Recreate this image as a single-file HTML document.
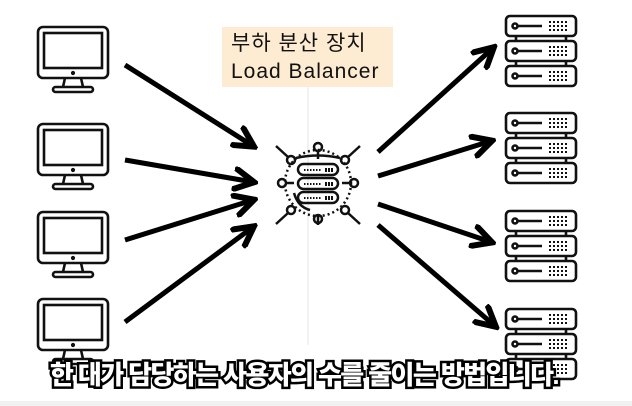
<!DOCTYPE html>
<html><head><meta charset="utf-8"><style>
html,body{margin:0;padding:0;background:#fff;}
#wrap{position:relative;width:632px;height:406px;overflow:hidden;background:#fff;}
svg{position:absolute;left:0;top:0;}
.lbl{position:absolute;left:222px;top:27px;width:171px;height:60px;background:#fdebd2;font-family:"Liberation Sans","Noto Sans CJK KR",sans-serif;font-size:21px;color:#111;line-height:28px;padding-top:3px;box-sizing:border-box;padding-left:9px;letter-spacing:1px;white-space:nowrap;}
.sub{position:absolute;left:-12px;width:632px;top:355px;text-align:center;font-family:"Liberation Sans","Noto Sans CJK KR",sans-serif;font-weight:900;font-size:26px;color:#fff;-webkit-text-stroke:5px #000;paint-order:stroke fill;letter-spacing:-1.6px;white-space:nowrap;}
.bot{position:absolute;left:0;top:401px;width:632px;height:5px;background:#f1f1f1;}
</style></head><body>
<div id="wrap">
<svg width="632" height="406" viewBox="0 0 632 406">
<defs>
<g id="mon" fill="none" stroke="#111" stroke-width="2.6">
<rect x="0" y="0" width="70" height="51" rx="5"/>
<rect x="6" y="6" width="58" height="35"/>
<circle cx="35" cy="46" r="0.8" fill="#111"/>
<path d="M27 51 L25 60 M43 51 L45 60"/>
<rect x="15" y="60" width="40" height="5" rx="2.5"/>
</g>
<g id="unit" fill="none" stroke="#111" stroke-width="2.6">
<rect x="0" y="0" width="70" height="20" rx="4"/>
<circle cx="9" cy="10" r="2.5"/><path d="M12 10 H36"/>
<path d="M43 6 H62 M43 10 H62 M43 14 H62" stroke-dasharray="2 2" stroke-width="2"/>
</g>
<g id="srv">
<use href="#unit" x="0" y="0"/>
<use href="#unit" x="0" y="25"/>
<use href="#unit" x="0" y="50"/>
<path d="M10 20 V25 M60 20 V25 M10 45 V50 M60 45 V50" stroke="#111" stroke-width="2.6"/>
</g>
<marker id="ah" viewBox="0 0 10 10" refX="8" refY="5" markerWidth="5" markerHeight="5" orient="auto"><path d="M0 0.5 L8.5 5 L0 9.5" fill="none" stroke="#000" stroke-width="2.4"/></marker>
</defs>
<line x1="308" y1="87" x2="308" y2="345" stroke="#e4e4e4" stroke-width="1"/>
<use href="#mon" x="38" y="27"/>
<use href="#mon" x="38" y="124"/>
<use href="#mon" x="38" y="212"/>
<use href="#mon" x="38" y="299"/>
<g stroke="#000" stroke-width="5" fill="none" marker-end="url(#ah)">
<line x1="125" y1="65" x2="253" y2="146"/>
<line x1="125" y1="160" x2="253" y2="182"/>
<line x1="125" y1="240" x2="253" y2="200"/>
<line x1="125" y1="322" x2="253" y2="227"/>
</g>
<g stroke="#000" stroke-width="5" fill="none" marker-end="url(#ah)">
<line x1="378" y1="152" x2="493" y2="48"/>
<line x1="378" y1="176" x2="491" y2="141"/>
<line x1="378" y1="204" x2="491" y2="242"/>
<line x1="378" y1="225" x2="495" y2="326"/>
</g>
<g fill="none" stroke="#111" stroke-width="2.5" transform="translate(318,183)">
<circle r="33" stroke-dasharray="2 3"/>
<rect x="-20" y="-19" width="40" height="11" rx="5.5"/>
<rect x="-20" y="-5" width="40" height="11" rx="5.5"/>
<rect x="-20" y="9" width="40" height="11" rx="5.5"/>
<path d="M-14 -13 H4 M-14 1 H4 M-14 15 H4" stroke-dasharray="1.5 1.5" stroke-width="2"/>
<path d="M7 -13 H15 M7 1 H15 M7 15 H15" stroke-dasharray="2 1" stroke-width="4"/>
<circle cx="0" cy="-36" r="4"/><circle cx="0" cy="36" r="4"/><circle cx="-36" cy="0" r="4"/><circle cx="36" cy="0" r="4"/>
<circle cx="-27" cy="-23" r="4"/><circle cx="27" cy="-23" r="4"/><circle cx="-27" cy="27" r="4"/><circle cx="27" cy="27" r="4"/>
<path d="M-30 -26 L-42 -37 M30 -26 L42 -37 M-30 30 L-42 41 M30 30 L42 41 M0 -32 V-24 M0 32 V42 M-32 0 H-24 M32 0 H24"/>
<path d="M-22 -25 Q0 -30 22 -25 M-24 10 Q-20 24 -8 27"/>
</g>
<use href="#srv" x="506" y="16"/>
<use href="#srv" x="506" y="113"/>
<use href="#srv" x="506" y="211"/>
<use href="#srv" x="506" y="309"/>
</svg>
<div class="lbl">부하 분산 장치<br>Load Balancer</div>
<div class="sub">한 대가 담당하는 사용자의 수를 줄이는 방법입니다.</div>
<div class="bot"></div>
</div>
</body></html>
